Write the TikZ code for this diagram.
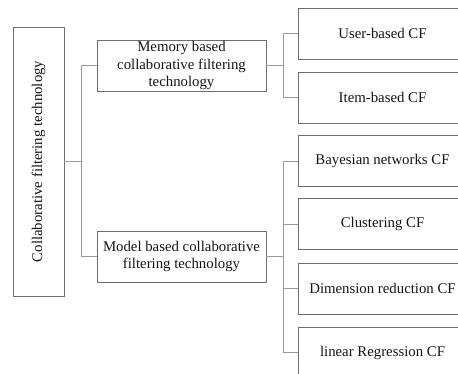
\documentclass[tikz,border=0pt]{standalone}
\usepackage{fontspec}
\setmainfont{Liberation Serif}
\definecolor{boxgray}{HTML}{6E6E6E}
\definecolor{linegray}{HTML}{9A9A9A}
\definecolor{txtgray}{HTML}{141414}
\tikzset{
  cfbox/.style={draw=boxgray, line width=0.9pt, text=txtgray, inner sep=0pt, align=center,
    font=\fontsize{14.8}{17.5}\selectfont},
  leafbox/.style={cfbox, minimum width=169, minimum height=51},
  link/.style={draw=linegray, line width=0.9pt}
}
\begin{document}
\begin{tikzpicture}[x=1pt, y=-1pt]
\useasboundingbox (0, 0) rectangle (458, 374);
\clip (0, 0) rectangle (458, 374);
\node[cfbox, rotate=90, minimum width=269, minimum height=51](root) at (38.5, 161.5) {Collaborative filtering technology};
\node[cfbox, minimum width=169, minimum height=51](mem) at (181.5, 65.5) {Memory based\\collaborative filtering\\technology};
\node[cfbox, minimum width=169, minimum height=51](mod) at (181.5, 256.5) {Model based collaborative\\filtering technology};
\node[leafbox](user) at (382.5, 33.5) {User-based CF};
\node[leafbox](item) at (382.5, 97.5) {Item-based CF};
\node[leafbox](bayes) at (382.5, 161) {Bayesian networks CF};
\node[leafbox](clust) at (382.5, 224) {Clustering CF};
\node[leafbox](dimred) at (382.5, 288.5) {Dimension reduction CF};
\node[leafbox](linreg) at (382.5, 352.5) {linear Regression CF};
\coordinate (j1) at (81, 161.5);
\coordinate (j2) at (283, 65.5);
\coordinate (j3) at (283, 256.5);
\draw[link] (root.south) -- (j1);
\draw[link] (mem.west) -| (j1);
\draw[link] (mod.west) -| (j1);
\draw[link] (mem.east) -- (j2);
\draw[link] (user.west) -| (j2);
\draw[link] (item.west) -| (j2);
\draw[link] (mod.east) -- (j3);
\draw[link] (bayes.west) -| (j3);
\draw[link] (clust.west) -| (j3);
\draw[link] (dimred.west) -| (j3);
\draw[link] (linreg.west) -| (j3);
\end{tikzpicture}
\end{document}
